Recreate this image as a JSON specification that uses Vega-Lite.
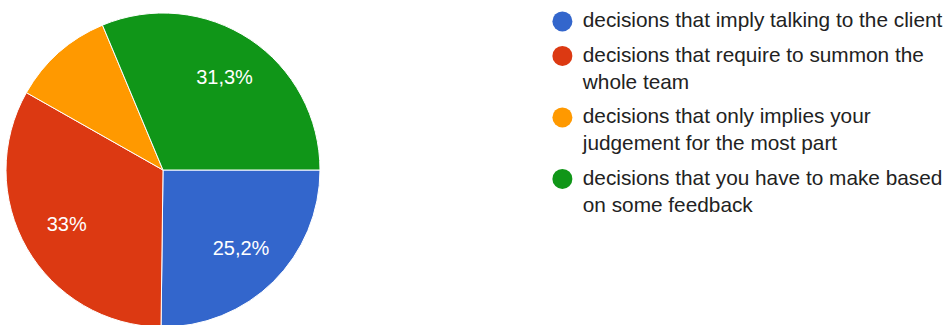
{
  "$schema": "https://vega.github.io/schema/vega-lite/v6.json",
  "width": 326,
  "height": 314,
  "padding": {"left": 0, "top": 11, "right": 0, "bottom": 0},
  "background": "white",
  "config": {"view": {"stroke": null}, "font": "Liberation Sans", "style": {"guide-label": {"lineHeight": 27}}},
  "data": {
    "values": [
      {"category": "decisions that imply talking to the client", "percent": 25.2, "label": "25,2%", "rank": 1},
      {"category": "decisions that require to summon the whole team", "percent": 33.0, "label": "33%", "rank": 2},
      {"category": "decisions that only implies your judgement for the most part", "percent": 10.5, "label": "", "rank": 3},
      {"category": "decisions that you have to make based on some feedback", "percent": 31.3, "label": "31,3%", "rank": 4}
    ]
  },
  "encoding": {
    "theta": {"field": "percent", "type": "quantitative", "stack": true, "scale": {"range": [1.5708, 7.854]}},
    "order": {"field": "rank", "type": "quantitative", "sort": "ascending"}
  },
  "layer": [
    {
      "mark": {"type": "arc", "outerRadius": 157, "stroke": "white", "strokeWidth": 1},
      "encoding": {
        "color": {
          "field": "category",
          "type": "nominal",
          "scale": {
            "domain": ["decisions that imply talking to the client", "decisions that require to summon the whole team", "decisions that only implies your judgement for the most part", "decisions that you have to make based on some feedback"],
            "range": ["#3366cc", "#dc3912", "#ff9900", "#109618"]
          },
          "legend": {
            "title": null,
            "orient": "none",
            "legendX": 552,
            "legendY": -2,
            "padding": 0,
            "symbolType": "circle",
            "symbolSize": 400,
            "symbolStrokeWidth": 0,
            "labelFont": "Liberation Sans",
            "labelFontSize": 20.8,
            "labelColor": "#222222",
            "labelLimit": 0,
            "labelOffset": 10,
            "rowPadding": 12.5,
            "labelExpr": "datum.label == 'decisions that require to summon the whole team' ? ['decisions that require to summon the', 'whole team'] : datum.label == 'decisions that only implies your judgement for the most part' ? ['decisions that only implies your', 'judgement for the most part'] : datum.label == 'decisions that you have to make based on some feedback' ? ['decisions that you have to make based', 'on some feedback'] : datum.label",
            "encode": {
              "symbols": {"update": {"y": {"value": 11}}},
              "labels": {"enter": {"lineHeight": {"value": 27}}, "update": {"y": {"value": 0}, "baseline": {"value": "top"}, "lineHeight": {"value": 27}}}
            }
          }
        }
      }
    },
    {
      "mark": {"type": "text", "radius": 111, "fontSize": 20, "color": "white", "fill": "white"},
      "encoding": {
        "text": {"field": "label", "type": "nominal"}
      }
    }
  ]
}
